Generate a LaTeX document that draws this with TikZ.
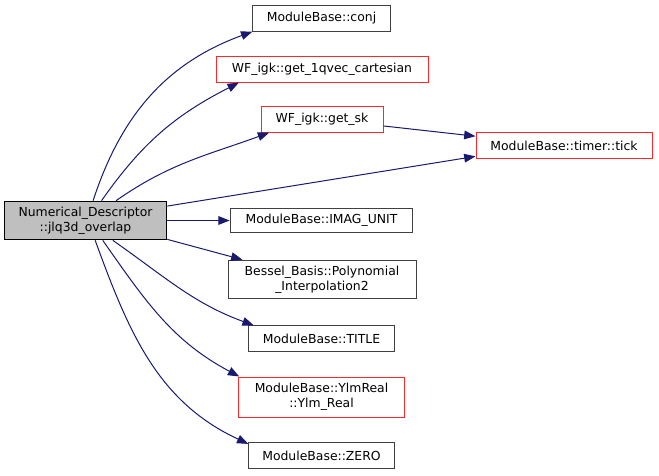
\documentclass[tikz,border=0pt]{standalone}
\usepackage{fontspec}
\setmainfont{DejaVu Sans}
\usetikzlibrary{arrows.meta}
\definecolor{edgecolor}{RGB}{25,25,112}
\definecolor{mainfill}{RGB}{191,191,191}
\definecolor{linkred}{RGB}{255,40,40}

\begin{document}
\begin{tikzpicture}[
    x=0.75pt, y=0.75pt,
    box/.style={rectangle, draw=black!75, line width=0.75pt, inner sep=0pt, align=center, font=\fontsize{9.3}{11}\selectfont},
    redbox/.style={box, draw=linkred},
    arrow/.style={-{Triangle[length=8.5pt,width=6.5pt]}, draw=edgecolor, line width=0.75pt}
]
\useasboundingbox (0,0) rectangle (659,-475);

% Caller
\node[box, draw=black, fill=mainfill, minimum width=122pt, minimum height=29pt] (main) at (85.5,-220.5) {Numerical\_Descriptor\\::jlq3d\_overlap};

% Callees
\node[box, minimum width=103pt, minimum height=19pt] (conj) at (321.5,-18.5) {ModuleBase::conj};
\node[redbox, minimum width=159pt, minimum height=19pt] (qvec) at (322,-69.5) {WF\_igk::get\_1qvec\_cartesian};
\node[redbox, minimum width=91.5pt, minimum height=19pt] (getsk) at (322,-119.5) {WF\_igk::get\_sk};
\node[redbox, minimum width=132pt, minimum height=19pt] (tick) at (564,-145.5) {ModuleBase::timer::tick};
\node[box, minimum width=137pt, minimum height=18pt] (imag) at (321.5,-220.5) {ModuleBase::IMAG\_UNIT};
\node[box, minimum width=141pt, minimum height=29pt] (bessel) at (322,-279.5) {Bessel\_Basis::Polynomial\\\_Interpolation2};
\node[box, minimum width=109pt, minimum height=19pt] (title) at (321.5,-338.5) {ModuleBase::TITLE};
\node[redbox, minimum width=124pt, minimum height=30pt] (ylm) at (321.5,-397) {ModuleBase::YlmReal\\::Ylm\_Real};
\node[box, minimum width=109pt, minimum height=19pt] (zero) at (321.5,-455.5) {ModuleBase::ZERO};

% Calls
\draw[arrow] (main.69) to[out=72, in=200] (conj.south west);
\draw[arrow] (main.51.5) to[out=55, in=207] (qvec.189);
\draw[arrow] (main.33.5) to[out=35, in=200] (getsk.194);
\draw[arrow] (getsk.-6) -- (tick.174.5);
\draw[arrow] (main.10.8) -- (tick.187.4);
\draw[arrow] (main.east) -- (imag.west);
\draw[arrow] (main.-13.5) -- (bessel.166.6);
\draw[arrow] (main.-36.3) to[out=-35, in=160] (title.169.4);
\draw[arrow] (main.-49.8) to[out=-55, in=152] (ylm.166.2);
\draw[arrow] (main.-64) to[out=-70, in=155] (zero.171.9);

\end{tikzpicture}
\end{document}
